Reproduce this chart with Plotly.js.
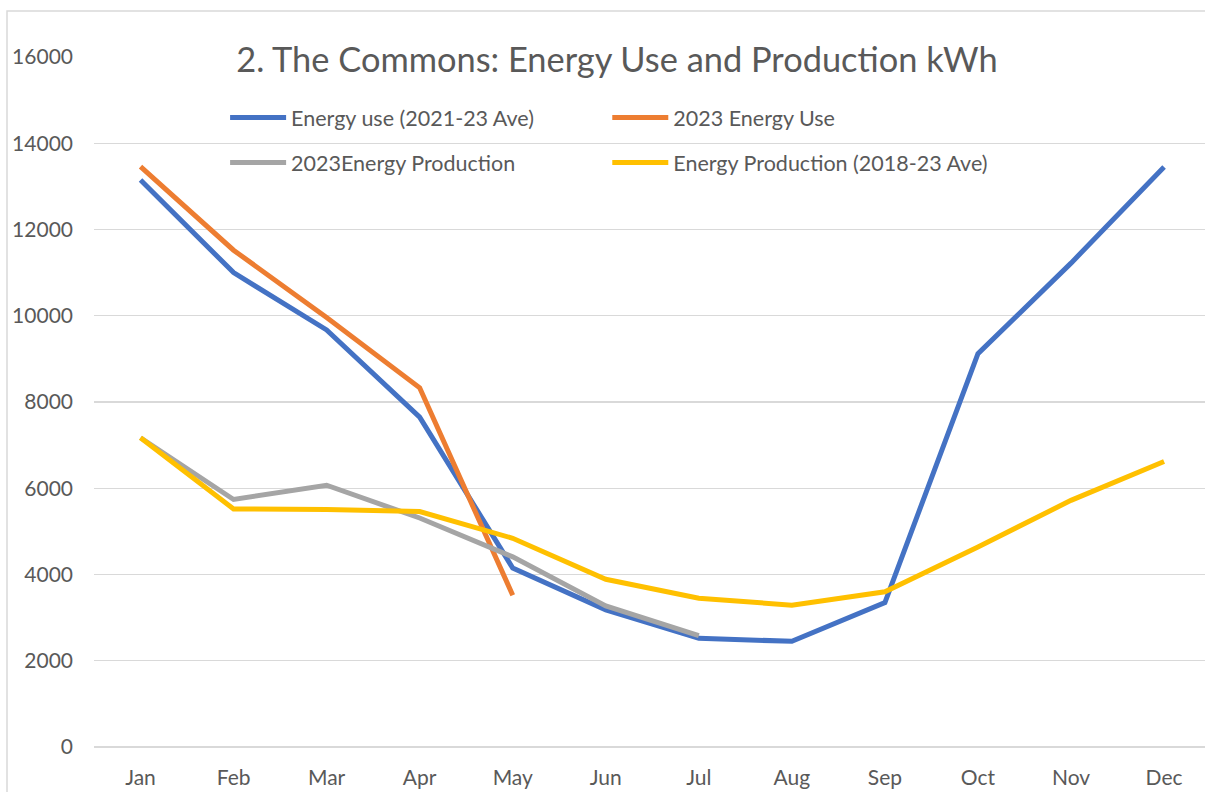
<!DOCTYPE html>
<html>
<head>
<meta charset="utf-8">
<script src="https://cdn.plot.ly/plotly-3.0.1.min.js"></script>
<style>html,body{margin:0;padding:0;background:#fff;}#chart{width:1205px;height:792px;}</style>
</head>
<body>
<div id="chart"></div>
<script>
const months = ["Jan","Feb","Mar","Apr","May","Jun","Jul","Aug","Sep","Oct","Nov","Dec"];
const energyUseAve = [13150, 11000, 9670, 7650, 4150, 3180, 2520, 2450, 3350, 9120, 11220, 13450];
const energyUse2023 = [13460, 11520, 9960, 8330, 3520];
const energyProd2023 = [7170, 5740, 6070, 5310, 4410, 3270, 2580];
const energyProdAve = [7170, 5520, 5510, 5460, 4840, 3890, 3450, 3290, 3600, 4640, 5720, 6620];
const yTicks = [0, 2000, 4000, 6000, 8000, 10000, 12000, 14000, 16000];

const FONT = "Lato, 'Open Sans', sans-serif";
const TXT = "#595959";
const LW = 5;

const traces = [
  {x: months, y: energyUseAve, name: "Energy use (2021-23 Ave)", type: "scatter", mode: "lines",
   line: {color: "#4472C4", width: LW}, legend: "legend", legendgroup: "a"},
  {x: months.slice(0, energyProd2023.length), y: energyProd2023, name: "2023Energy Production", type: "scatter", mode: "lines",
   line: {color: "#A5A5A5", width: LW}, legend: "legend", legendgroup: "b"},
  {x: months.slice(0, energyUse2023.length), y: energyUse2023, name: "2023 Energy Use", type: "scatter", mode: "lines",
   line: {color: "#ED7D31", width: LW}, legend: "legend2", legendgroup: "c"},
  {x: months, y: energyProdAve, name: "Energy Production (2018-23 Ave)", type: "scatter", mode: "lines",
   line: {color: "#FFC000", width: LW}, legend: "legend2", legendgroup: "d"}
];
const ordered = [traces[0], traces[2], traces[1], traces[3]];

const legendCommon = {
  orientation: "v", bgcolor: "rgba(0,0,0,0)", borderwidth: 0,
  font: {family: FONT, size: 21.5, color: TXT}, tracegroupgap: 14,
  xanchor: "left", yanchor: "top", itemwidth: 56
};

const layout = {
  width: 1205, height: 792,
  margin: {l: 94, r: 0, t: 57, b: 45},
  paper_bgcolor: "#ffffff", plot_bgcolor: "#ffffff",
  font: {family: FONT, color: TXT},
  title: {text: "2. The Commons: Energy Use and Production kWh", font: {family: FONT, size: 34.4, color: TXT},
          xref: "paper", yref: "paper", x: 0.4707, y: 0.9957, xanchor: "center", yanchor: "middle"},
  xaxis: {type: "category", range: [-0.5, 11.44], showgrid: false, zeroline: false, showline: false,
          ticks: "", tickfont: {family: FONT, size: 21, color: TXT}, ticklabelstandoff: 16, fixedrange: true},
  yaxis: {range: [0, 16000], tickvals: yTicks, ticktext: yTicks.map(String), showgrid: true, gridcolor: "#d9d9d9", gridwidth: 1.3,
          zeroline: true, zerolinecolor: "#d9d9d9", zerolinewidth: 1.3, showline: false, ticks: "",
          tickfont: {family: FONT, size: 21, color: TXT}, ticklabelstandoff: 20, fixedrange: true},
  legend: Object.assign({}, legendCommon, {x: 0.118, y: 0.942}),
  legend2: Object.assign({}, legendCommon, {x: 0.462, y: 0.942}),
  shapes: [
    {type: "rect", xref: "paper", yref: "paper", x0: -0.0783, x1: 1.2, y0: -0.2, y1: 1.0667,
     line: {color: "#d9d9d9", width: 1.5}, fillcolor: "rgba(0,0,0,0)", layer: "below"}
  ],
  showlegend: true
};

Plotly.newPlot("chart", ordered, layout, {displayModeBar: false, staticPlot: true});
</script>
</body>
</html>
